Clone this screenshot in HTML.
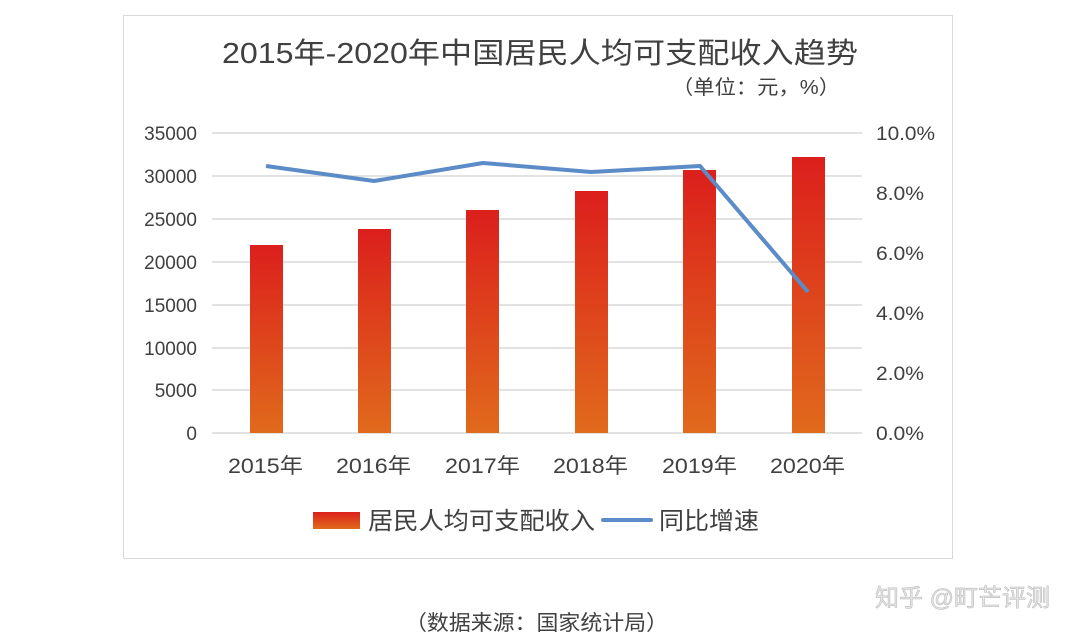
<!DOCTYPE html>
<html><head><meta charset="utf-8"><style>
body{margin:0;background:#fff;}
svg{display:block;font-family:"Liberation Sans","Noto Sans CJK SC",sans-serif;}
</style></head><body>
<svg width="1080" height="641" viewBox="0 0 1080 641" xmlns="http://www.w3.org/2000/svg">
<defs>
<linearGradient id="g" x1="0" y1="0" x2="0" y2="1">
<stop offset="0" stop-color="#dc1f1c"/><stop offset="1" stop-color="#e06a1c"/>
</linearGradient>
<linearGradient id="gl" x1="0" y1="0" x2="0" y2="1">
<stop offset="0" stop-color="#dc1f1c"/><stop offset="1" stop-color="#e06a1c"/>
</linearGradient>
</defs>
<rect x="123.5" y="15.5" width="829" height="543" fill="#fff" stroke="#d9d9d9"/>
<text x="222" y="63" font-size="29" fill="#404040" textLength="636" lengthAdjust="spacingAndGlyphs">2015年-2020年中国居民人均可支配收入趋势</text>
<text x="672" y="94" font-size="20" fill="#404040" textLength="168" lengthAdjust="spacingAndGlyphs">（单位：元，%）</text>
<g stroke="#d9d9d9" stroke-width="1.5">
<line x1="212" x2="862" y1="133" y2="133"/><line x1="212" x2="862" y1="176" y2="176"/>
<line x1="212" x2="862" y1="219" y2="219"/><line x1="212" x2="862" y1="262" y2="262"/>
<line x1="212" x2="862" y1="305" y2="305"/><line x1="212" x2="862" y1="348" y2="348"/>
<line x1="212" x2="862" y1="390" y2="390"/><line x1="212" x2="862" y1="433" y2="433"/>
</g>
<g font-size="19" fill="#404040" text-anchor="end">
<text x="197" y="140">35000</text><text x="197" y="183">30000</text><text x="197" y="226">25000</text>
<text x="197" y="269">20000</text><text x="197" y="312">15000</text><text x="197" y="355">10000</text>
<text x="197" y="397">5000</text><text x="197" y="440">0</text>
</g>
<g font-size="19" fill="#404040">
<text x="876" y="140" textLength="59" lengthAdjust="spacingAndGlyphs">10.0%</text><text x="876" y="200" textLength="48" lengthAdjust="spacingAndGlyphs">8.0%</text><text x="876" y="260" textLength="48" lengthAdjust="spacingAndGlyphs">6.0%</text>
<text x="876" y="320" textLength="48" lengthAdjust="spacingAndGlyphs">4.0%</text><text x="876" y="380" textLength="48" lengthAdjust="spacingAndGlyphs">2.0%</text><text x="876" y="440" textLength="48" lengthAdjust="spacingAndGlyphs">0.0%</text>
</g>
<g fill="url(#g)">
<rect x="250" y="245" width="33" height="188"/>
<rect x="358" y="229" width="33" height="204"/>
<rect x="466" y="210" width="33" height="223"/>
<rect x="575" y="191" width="33" height="242"/>
<rect x="683" y="170" width="33" height="263"/>
<rect x="792" y="157" width="33" height="276"/>
</g>
<polyline points="266,166 374,181 483,163 591,172 700,166 808,292" fill="none" stroke="#5b8cc8" stroke-width="4" stroke-linejoin="round"/>
<g font-size="21" fill="#404040">
<text x="228" y="473" textLength="75" lengthAdjust="spacingAndGlyphs">2015年</text><text x="336" y="473" textLength="75" lengthAdjust="spacingAndGlyphs">2016年</text><text x="445" y="473" textLength="75" lengthAdjust="spacingAndGlyphs">2017年</text>
<text x="553" y="473" textLength="75" lengthAdjust="spacingAndGlyphs">2018年</text><text x="662" y="473" textLength="75" lengthAdjust="spacingAndGlyphs">2019年</text><text x="770" y="473" textLength="75" lengthAdjust="spacingAndGlyphs">2020年</text>
</g>
<rect x="313" y="512" width="47" height="17" fill="url(#gl)"/>
<text x="368" y="529" font-size="24" fill="#404040" textLength="227" lengthAdjust="spacingAndGlyphs">居民人均可支配收入</text>
<line x1="603" x2="651" y1="520" y2="520" stroke="#5b8cc8" stroke-width="4" stroke-linecap="round"/>
<text x="659" y="529" font-size="24" fill="#404040" textLength="100" lengthAdjust="spacingAndGlyphs">同比增速</text>
<text x="405" y="630" font-size="21" fill="#404040" textLength="263" lengthAdjust="spacingAndGlyphs">（数据来源：国家统计局）</text>
<text x="1050" y="606" font-size="24" fill="#e6e6e6" text-anchor="end" stroke="#bbb" stroke-width="0.6">知乎 @町芒评测</text>
</svg>
</body></html>
